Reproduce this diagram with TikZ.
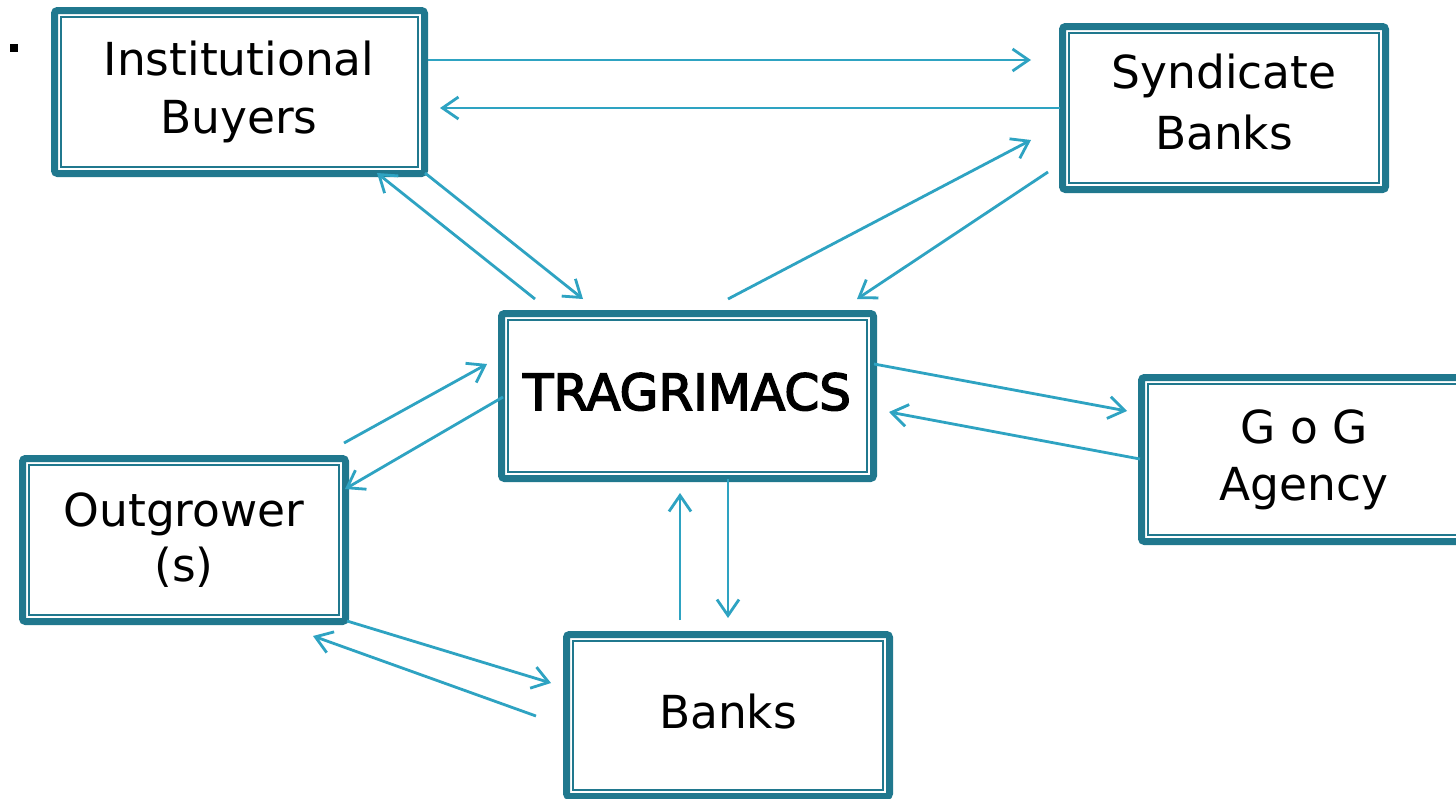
\documentclass[tikz,border=0pt]{standalone}
\usepackage{fontspec}
\setmainfont{DejaVu Sans}
\newfontfamily\tragfont[FakeBold=3]{DejaVu Sans}
\usetikzlibrary{arrows.meta,calc}
\definecolor{boxc}{RGB}{32,120,142}
\definecolor{arrc}{RGB}{46,163,194}
\begin{document}
\begin{tikzpicture}[x=1pt,y=-1pt,
  boxst/.style={draw=boxc,line width=7pt,rounded corners=3pt,outer sep=0pt,inner sep=0pt,fill=white},
  innerline/.style={draw=boxc,line width=1.8pt},
  txt/.style={anchor=base,inner sep=0pt,font=\fontsize{45.5}{54}\selectfont},
  arr/.style={draw=arrc,line width=2.8pt,-{Straight Barb[length=16pt,width=22pt]}}]
\clip (0,0) rectangle (1456,798);
\fill[white] (0,0) rectangle (1456,798);
% bullet
\fill[black] (9.5,43.5) rectangle (18,52);
% boxes
\node[boxst,minimum width=370pt,minimum height=163pt] (ib)  at (239.5,92) {};
\node[boxst,minimum width=323pt,minimum height=163pt] (sb)  at (1224,108) {};
\node[boxst,minimum width=372pt,minimum height=165pt] (tr)  at (687.5,396) {};
\node[boxst,minimum width=325pt,minimum height=164pt] (gog) at (1304,459.5) {};
\node[boxst,minimum width=323pt,minimum height=163pt] (out) at (184,540) {};
\node[boxst,minimum width=323pt,minimum height=162pt] (bk)  at (728,715.5) {};
\foreach \n in {ib,sb,tr,gog,out,bk}
  \draw[innerline] ($(\n.north west)+(6.5,6.5)$) rectangle ($(\n.south east)-(6.5,6.5)$);
% texts
\node[txt] (ib1) at (239,75) {Institutional};
\node[txt] (ib2) at (239,133) {Buyers};
\node[txt] (sb1) at (1224,88) {Syndicate};
\node[txt] (sb2) at (1224,149) {Banks};
\node[txt,font=\fontsize{50}{58}\tragfont] (tr1) at (687,410) {TRAGRIMACS};
\node[txt] (gog1) at (1304,443) {G o G};
\node[txt] (gog2) at (1304,500) {Agency};
\node[txt] (out1) at (184,526) {Outgrower};
\node[txt] (out2) at (184,581) {(s)};
\node[txt] (bk1) at (728,728) {Banks};
% connector end points
\coordinate (a1s) at (428,60);   \coordinate (a1e) at (1031,60);
\coordinate (a2s) at (1060,108); \coordinate (a2e) at (440,108);
\coordinate (a3s) at (535,299);  \coordinate (a3e) at (377,173);
\coordinate (a4s) at (425,173);  \coordinate (a4e) at (583,299);
\coordinate (a5s) at (728,299);  \coordinate (a5e) at (1031,140);
\coordinate (a6s) at (1048,172); \coordinate (a6e) at (857,299);
\coordinate (a7s) at (874,364);  \coordinate (a7e) at (1127,411);
\coordinate (a8s) at (1140,459); \coordinate (a8e) at (889,412);
\coordinate (a9s) at (344,443);  \coordinate (a9e) at (487,364);
\coordinate (a10s) at (503,397); \coordinate (a10e) at (345,489);
\coordinate (a11s) at (680,620); \coordinate (a11e) at (680,493);
\coordinate (a12s) at (728,479); \coordinate (a12e) at (728,618);
\coordinate (a13s) at (347,621); \coordinate (a13e) at (551,683);
\coordinate (a14s) at (536,716); \coordinate (a14e) at (313,636);
% connectors
\foreach \i in {1,...,14}
  \draw[arr] (a\i s) -- (a\i e);
\end{tikzpicture}
\end{document}
